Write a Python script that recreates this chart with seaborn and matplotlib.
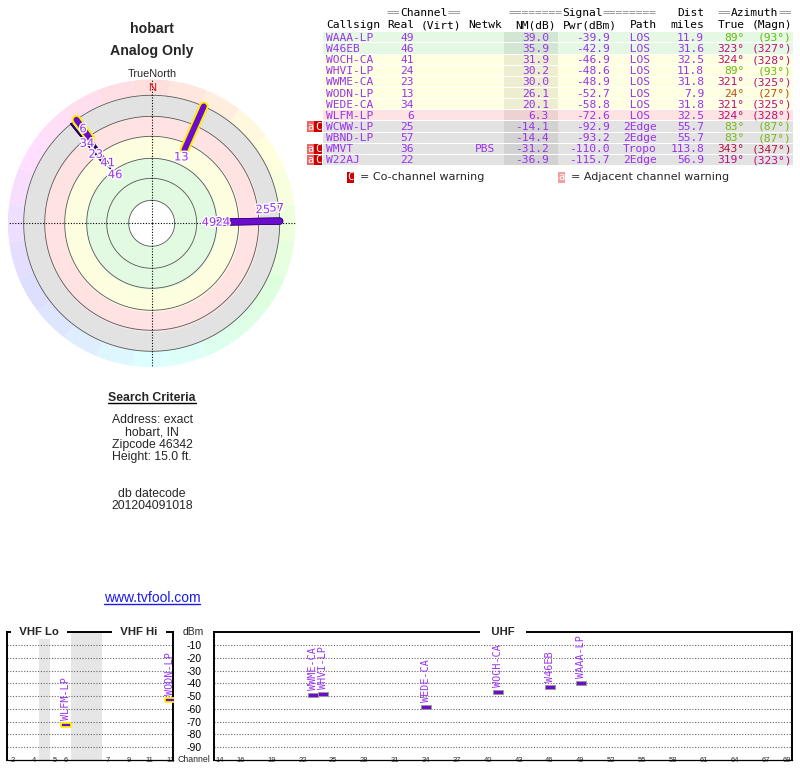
"""Recreates a TV Fool style signal report for hobart, IN."""

import colorsys
import numpy as np
import pandas as pd
import matplotlib
matplotlib.use('Agg')
import matplotlib.pyplot as plt
import matplotlib.patheffects as pe
from matplotlib.patches import Rectangle
from matplotlib.markers import MarkerStyle
import seaborn as sns

# ---- station table ----
callsigns = ['WAAA-LP', 'W46EB', 'WOCH-CA', 'WHVI-LP', 'WWME-CA', 'WODN-LP',
             'WEDE-CA', 'WLFM-LP', 'WCWW-LP', 'WBND-LP', 'WMVT', 'W22AJ']
channels = [49, 46, 41, 24, 23, 13, 34, 6, 25, 57, 36, 22]
networks = ['', '', '', '', '', '', '', '', '', '', 'PBS', '']
nm_db = [39.0, 35.9, 31.9, 30.2, 30.0, 26.1, 20.1, 6.3, -14.1, -14.4, -31.2, -36.9]
pwr_dbm = [-39.9, -42.9, -46.9, -48.6, -48.9, -52.7, -58.8, -72.6, -92.9, -93.2, -110.0, -115.7]
paths = ['LOS', 'LOS', 'LOS', 'LOS', 'LOS', 'LOS', 'LOS', 'LOS', '2Edge', '2Edge', 'Tropo', '2Edge']
dist_miles = [11.9, 31.6, 32.5, 11.8, 31.8, 7.9, 31.8, 32.5, 55.7, 55.7, 113.8, 56.9]
az_true = [89, 323, 324, 89, 321, 24, 321, 324, 83, 83, 343, 319]
az_magn = [93, 327, 328, 93, 325, 27, 325, 328, 87, 87, 347, 323]
adj_warning = [False, False, False, False, False, False, False, False, True, False, True, True]
co_warning = [False, False, False, False, False, False, False, False, True, False, True, True]

search_lines = ['Address: exact', 'hobart, IN', 'Zipcode 46342', 'Height: 15.0 ft.']
datecode = '201204091018'

vhf_ticks = [2, 4, 5, 6, 7, 9, 11, 13]
uhf_ticks = [14, 16, 19, 22, 25, 28, 31, 34, 37, 40, 43, 46, 49, 52, 55, 58, 61, 64, 67, 69]
dbm_ticks = [-10, -20, -30, -40, -50, -60, -70, -80, -90]

df = pd.DataFrame({'callsign': callsigns, 'channel': channels, 'netwk': networks,
                   'nm': nm_db, 'pwr': pwr_dbm, 'path': paths, 'dist': dist_miles,
                   'az': az_true, 'magn': az_magn, 'adj': adj_warning, 'co': co_warning})
df['vhf'] = df['channel'] <= 13

PURPLE = '#9933ee'
MARK = '#6a0dcc'
W, H = 800, 768

sns.set_theme(style='white')
plt.rcParams['font.family'] = ['Liberation Sans', 'DejaVu Sans']
plt.rcParams['axes.unicode_minus'] = False

fig = plt.figure(figsize=(8, 7.68), dpi=100)
bg = fig.add_axes([0, 0, 1, 1])
bg.set_xlim(0, W)
bg.set_ylim(H, 0)
bg.axis('off')


def px_axes(left, top, right, bottom, **kw):
    return fig.add_axes([left / W, 1 - bottom / H, (right - left) / W, (bottom - top) / H], **kw)


def az_color(az, s=0.9, v=0.72):
    return colorsys.hsv_to_rgb((az % 360) / 360.0, s, v)


def zone_color(nm):
    if nm >= 34:
        return '#e4f8e4'
    if nm >= 10:
        return '#ffffe2'
    if nm >= 0:
        return '#ffe2e2'
    return '#e2e2e2'


# ---- titles ----
bg.text(152, 29, 'hobart', ha='center', va='center', fontsize=10.2, fontweight='bold')
bg.text(152, 51, 'Analog Only', ha='center', va='center', fontsize=10.2, fontweight='bold')
bg.text(152, 74, 'TrueNorth', ha='center', va='center', fontsize=7.8)

# ---- polar "radar" plot ----
pol = px_axes(7.7, 79.3, 295.7, 367.3, projection='polar')
pol.set_theta_zero_location('N')
pol.set_theta_direction(-1)
pol.set_axis_off()
pol.set_rlim(0, 144)
th = np.linspace(0, 2 * np.pi, 361)
zones = [(23, 66, '#e2f9e2'), (66, 88, '#fdfde0'), (88, 108, '#ffe3e3'), (108, 128, '#e2e2e2')]
for r0, r1, c in zones:
    pol.fill_between(th, r0, r1, color=c, lw=0, zorder=0)
wedge_deg = np.arange(0, 360, 15)
pol.bar(np.deg2rad(wedge_deg), 16, width=np.deg2rad(15), bottom=128, lw=0, zorder=0,
        color=[colorsys.hsv_to_rgb(d / 360.0, 0.13, 1.0) for d in wedge_deg])
for r in [23, 45, 65, 87, 107, 128]:
    pol.plot(th, np.full_like(th, r), color='#555555', lw=0.6, zorder=1)
for d in [0, 90, 180, 270]:
    pol.plot([np.deg2rad(d)] * 2, [0, 144], color='black', lw=0.8, ls=(0, (1, 1.5)), zorder=2)
pol.text(0, 135, 'N', color='#dd0000', ha='center', va='center', fontsize=8, zorder=3)

# radius of each station's label from its noise margin, staggered when bearings are close
df['lab_r'] = np.minimum(104 - 1.2 * df['nm'], 112)
shown = df[df['nm'] > -20].sort_values('az')
clusters, cur = [], []
for idx, row in shown.iterrows():
    if cur and row['az'] - df.loc[cur[-1], 'az'] > 8:
        clusters.append(cur)
        cur = []
    cur.append(idx)
clusters.append(cur)
lab_pos = {}
for cl in clusters:
    prev = None
    for idx in sorted(cl, key=lambda i: df.loc[i, 'lab_r']):
        r = df.loc[idx, 'lab_r']
        if prev is not None and r < prev + 14:
            r = prev + 14
        lab_pos[idx] = r
        prev = r

lines = df[df['nm'] >= 0]
for idx, row in lines.iterrows():
    t = np.deg2rad(row['az'])
    r0 = row['lab_r'] + 8
    thick = row['vhf'] or row['dist'] < 20
    if thick:
        halo = '#ffee00' if row['vhf'] else '#330077'
        pol.plot([t, t], [r0, 128], color=MARK, lw=4.2, solid_capstyle='round', zorder=4,
                 path_effects=[pe.Stroke(linewidth=7 if row['vhf'] else 5.2, foreground=halo),
                               pe.Normal()])
    else:
        pol.plot([t, t], [r0, 128], color='#220066', lw=1.5, zorder=3)
for idx, r in lab_pos.items():
    pol.text(np.deg2rad(df.loc[idx, 'az']), r, str(df.loc[idx, 'channel']), color=PURPLE,
             fontsize=8.3, family='DejaVu Sans', ha='center', va='center', zorder=5,
             path_effects=[pe.withStroke(linewidth=2, foreground='white')])

# ---- station table ----
X0, CW = 326.3, 6.746
MONO = 'DejaVu Sans Mono'
TFS = 8.07


def cx(col):
    return X0 + col * CW


def mono(col, y, s, color='black', ha='left'):
    bg.text(cx(col), y, s, fontsize=TFS, family=MONO, color=color, ha=ha, va='center')


def segs(col, y, parts):
    for s, color in parts:
        mono(col, y, s, color)
        col += len(s)


GRAY = '#8a8a8a'
segs(9, 13.3, [('==', GRAY), ('Channel', 'black'), ('==', GRAY)])
segs(27, 13.3, [('========', GRAY), ('Signal', 'black'), ('========', GRAY)])
mono(52, 13.3, 'Dist')
segs(58, 13.3, [('==', GRAY), ('Azimuth', 'black'), ('==', GRAY)])
for col, s in [(0, 'Callsign'), (9, 'Real'), (14, '(Virt)'), (21, 'Netwk'), (28, 'NM(dB)'),
               (35, 'Pwr(dBm)'), (45, 'Path'), (51, 'miles'), (58, 'True'), (63, '(Magn)')]:
    mono(col, 25, s)

ROW_H = 11.15
for i, row in df.iterrows():
    top = 32.2 + ROW_H * i
    y = top + ROW_H / 2
    bg.add_patch(Rectangle((323, top), 470, ROW_H - 1, color=zone_color(row['nm']), lw=0))
    bg.add_patch(Rectangle((504, top), 54, ROW_H - 1, color='black', alpha=0.07, lw=0))
    mono(0, y, row['callsign'], PURPLE)
    mono(13, y, str(row['channel']), PURPLE, ha='right')
    if row['netwk']:
        mono(22, y, row['netwk'], PURPLE)
    mono(33, y, f"{row['nm']:.1f}", PURPLE, ha='right')
    mono(42, y, f"{row['pwr']:.1f}", PURPLE, ha='right')
    mono(44, y, row['path'].center(5), PURPLE)
    mono(56, y, f"{row['dist']:.1f}", PURPLE, ha='right')
    ac = az_color(row['az'])
    mono(62, y, f"{row['az']}°", ac, ha='right')
    mono(69, y, f"({row['magn']}°)", ac, ha='right')
    if row['adj']:
        bg.add_patch(Rectangle((306.6, top), 7.6, ROW_H - 1, color='#ee6666', lw=0))
        bg.text(310.4, y, 'a', color='white', fontsize=7.5, family=MONO, ha='center', va='center')
    if row['co']:
        bg.add_patch(Rectangle((314.3, top), 7.6, ROW_H - 1, color='#cc0000', lw=0))
        bg.text(318.1, y, 'C', color='white', fontsize=7.5, family=MONO, ha='center', va='center')

bg.add_patch(Rectangle((346.5, 171.5), 7, 11, color='#cc0000', lw=0))
bg.text(350, 177, 'C', color='white', fontsize=7.5, family=MONO, ha='center', va='center')
bg.text(360, 177, '= Co-channel warning', fontsize=8, family='DejaVu Sans', va='center')
bg.add_patch(Rectangle((558, 171.5), 7, 11, color='#f4a0a0', lw=0))
bg.text(561.5, 177, 'a', color='white', fontsize=7.5, family=MONO, ha='center', va='center')
bg.text(571, 177, '= Adjacent channel warning', fontsize=8, family='DejaVu Sans', va='center')

# ---- search criteria ----
t_sc = bg.text(152, 398, 'Search Criteria', ha='center', va='center', fontsize=8.8,
               fontweight='bold')
for k, s in enumerate(search_lines):
    bg.text(152, 420 + 12.4 * k, s, ha='center', va='center', fontsize=8.8)
bg.text(152, 494, 'db datecode', ha='center', va='center', fontsize=8.8)
bg.text(152, 506, datecode, ha='center', va='center', fontsize=8.8)
t_link = bg.text(152, 598, 'www.tvfool.com', ha='center', va='center', fontsize=10,
                 color='#1a1aee')

# ---- spectrum panels ----


def vhf_slot(ch):
    if ch <= 4:
        return ch - 2
    if ch <= 6:
        return ch - 1
    return ch + 2


spec = df[df['nm'] >= 0].copy()
spec['x'] = [vhf_slot(c) if v else c for c, v in zip(spec['channel'], spec['vhf'])]

vhf = px_axes(7.3, 632.2, 173, 760)
uhf = px_axes(214.3, 632.2, 791.7, 760)
vhf.set_xlim(-0.55, 15.25)
uhf.set_xlim(13.45, 69.5)
vhf.axvspan(2.5, 3.5, color='#e6e6e6', lw=0, zorder=0)
vhf.axvspan(5.5, 8.5, color='#e6e6e6', lw=0, zorder=0)

bar_marker = MarkerStyle([(-1, -0.42), (1, -0.42), (1, 0.42), (-1, 0.42), (-1, -0.42)])
for ax, sub, edge, tick_ch, pos in [
        (vhf, spec[spec['vhf']], '#ffee00', vhf_ticks, [vhf_slot(c) for c in vhf_ticks]),
        (uhf, spec[~spec['vhf']], '#999999', uhf_ticks, uhf_ticks)]:
    ax.set_facecolor('white')
    ax.set_ylim(-100, 0)
    ax.set_yticks(dbm_ticks)
    ax.set_axisbelow(True)
    ax.grid(axis='y', color='#666666', ls=(0, (1, 1.5)), lw=0.8)
    ax.grid(axis='x', visible=False)
    for s in ['left', 'right', 'top']:
        ax.spines[s].set_color('black')
        ax.spines[s].set_linewidth(1.4)
    ax.spines['bottom'].set_color('black')
    ax.spines['bottom'].set_linewidth(0.9)
    ax.set_xticks(pos)
    ax.set_xticklabels([str(c) for c in tick_ch])
    ax.tick_params(axis='x', length=0, labelsize=5.5, pad=0, colors='#333333')
    for lbl in ax.get_xticklabels():
        lbl.set_va('center')
        lbl.set_bbox(dict(facecolor='white', edgecolor='none', pad=1.2))
    sns.scatterplot(data=sub, x='x', y='pwr', marker=bar_marker, s=52, color=MARK,
                    edgecolor=edge, linewidth=1.3 if edge == '#ffee00' else 0.7,
                    ax=ax, zorder=4, legend=False)
    for _, row in sub.iterrows():
        ax.annotate(row['callsign'], (row['x'], row['pwr']), xytext=(0, 3.5),
                    textcoords='offset points', rotation=90, ha='center', va='bottom',
                    fontsize=7.3, family=MONO, color=PURPLE, zorder=5)
    ax.set_xlabel('')
    ax.set_ylabel('')

vhf.tick_params(axis='y', left=False, labelleft=False)
uhf.tick_params(axis='y', length=0, labelsize=7.5, pad=9, colors='black')

title_kw = dict(ha='center', va='center', fontsize=8.2, fontweight='bold', zorder=6,
                clip_on=False, bbox=dict(facecolor='white', edgecolor='none', pad=1.5))
vhf.text(2.5, 0, '  VHF Lo  ', **title_kw)
vhf.text(12, 0, '  VHF Hi  ', **title_kw)
uhf.text(41.5, 0, '   UHF   ', **title_kw)
uhf.text((204 - 214.3) / 577.4, 0, 'dBm', transform=uhf.get_yaxis_transform(),
         ha='right', va='center', fontsize=7.5)
uhf.text((210 - 214.3) / 577.4, -100, 'Channel', transform=uhf.get_yaxis_transform(),
         ha='right', va='center', fontsize=6.3)

# underline the heading and the link
fig.canvas.draw()
inv = bg.transData.inverted()
for t, col in [(t_sc, 'black'), (t_link, '#1a1aee')]:
    bb = t.get_window_extent()
    (xa, ya), (xb, yb) = inv.transform([(bb.x0, bb.y0), (bb.x1, bb.y1)])
    bg.plot([xa, xb], [ya - 1.5, ya - 1.5], color=col, lw=1.0)

fig.savefig('out.png', dpi=100)
